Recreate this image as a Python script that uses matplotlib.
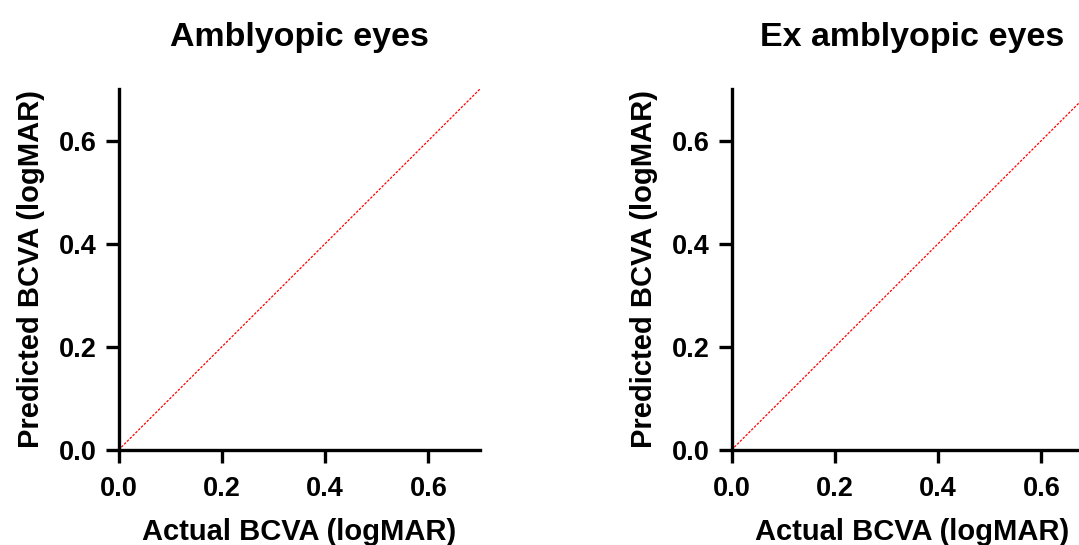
import matplotlib
matplotlib.use("Agg")
import matplotlib.pyplot as plt

plt.rcParams['font.family'] = ['Liberation Sans', 'DejaVu Sans']
plt.rcParams['font.weight'] = 'bold'

titles = ["Amblyopic eyes", "Ex amblyopic eyes"]
xlabel = "Actual BCVA (logMAR)"
ylabel = "Predicted BCVA (logMAR)"
ticks = [0.0, 0.2, 0.4, 0.6]
tick_labels = ["0.0", "0.2", "0.4", "0.6"]
diag_x = [0.0, 0.7]
diag_y = [0.0, 0.7]
limits = [0.0, 0.7]

W, H = 1079, 545
fig = plt.figure(figsize=(W / 100, H / 100), dpi=100)

lefts = [118.5, 731.5]
aw, ah = 361.5, 361.0
top = 89.0

for left, title in zip(lefts, titles):
    ax = fig.add_axes([left / W, (H - top - ah) / H, aw / W, ah / H])
    ax.plot(diag_x, diag_y, color='red', lw=0.9, linestyle=(0, (2.0, 1.2)), clip_on=False)
    ax.set_xlim(limits)
    ax.set_ylim(limits)
    ax.set_xticks(ticks)
    ax.set_yticks(ticks)
    ax.set_xticklabels(tick_labels)
    ax.set_yticklabels(tick_labels)
    for s in ['top', 'right']:
        ax.spines[s].set_visible(False)
    for s in ['left', 'bottom']:
        ax.spines[s].set_linewidth(2.4)
    ax.tick_params(axis='x', length=9.5, width=2.4, labelsize=19.5, pad=9)
    ax.tick_params(axis='y', length=9.5, width=2.4, labelsize=19.5, pad=6)
    for lab in ax.get_xticklabels() + ax.get_yticklabels():
        lab.set_fontweight('bold')
    ax.set_xlabel(xlabel, fontsize=21, fontweight='bold', labelpad=12)
    ax.set_ylabel(ylabel, fontsize=21, fontweight='bold', labelpad=10)
    ax.set_title(title, fontsize=24.5, fontweight='bold', pad=31)

fig.savefig("out.png", dpi=100)
